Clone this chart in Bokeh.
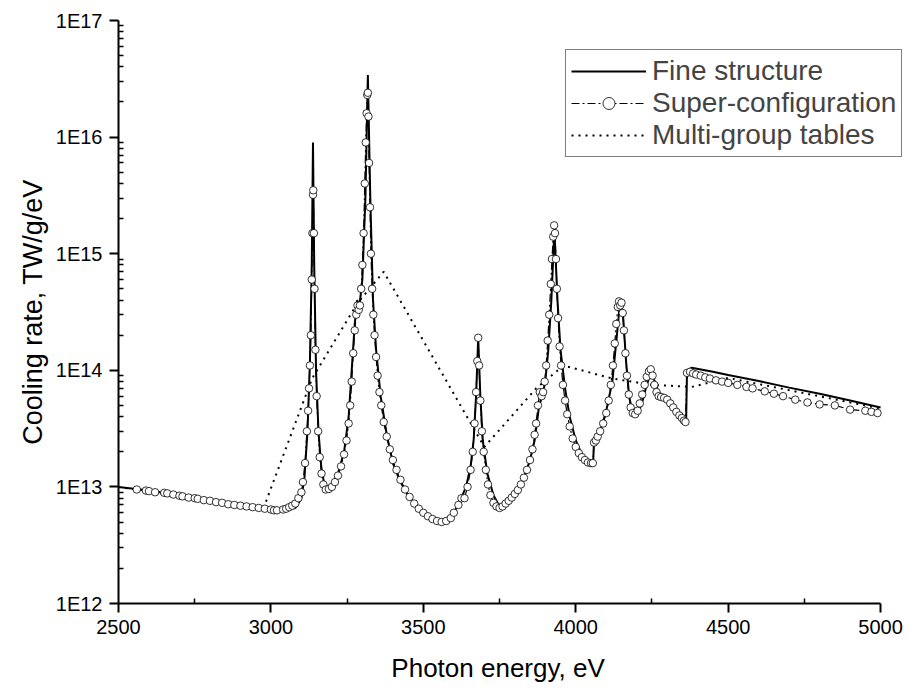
from bokeh.plotting import figure
from bokeh.models import FixedTicker, CustomJSTickFormatter, Legend, LegendItem, Range1d
from bokeh.embed import file_html
from bokeh.resources import INLINE

# ---------------- data ----------------
fs_energy = [2500, 2600, 2700, 2800, 2900, 3000, 3050, 3080, 3100, 3110, 3120, 3128, 3134, 3138,
             3142, 3148, 3156, 3165, 3175, 3185, 3200, 3220, 3240, 3255, 3265, 3275, 3283, 3290,
             3300, 3310, 3318, 3326, 3335, 3345, 3360, 3380, 3400, 3425, 3450, 3475, 3500, 3530,
             3560, 3580, 3600, 3620, 3640, 3655, 3665, 3673, 3680, 3687, 3695, 3710, 3730, 3750,
             3770, 3790, 3810, 3830, 3850, 3865, 3880, 3890, 3900, 3910, 3920, 3930, 3940, 3950,
             3965, 3980, 4000, 4020, 4040, 4057, 4060, 4080, 4100, 4120, 4135, 4145, 4155, 4165,
             4175, 4185, 4200, 4215, 4230, 4245, 4260, 4275, 4290, 4310, 4330, 4350, 4362, 4365,
             4380, 4450, 4500, 4600, 4700, 4800, 4900, 5000]
fs_value = [1.0e13, 9.3e12, 8.5e12, 7.8e12, 7.1e12, 6.5e12, 6.4e12, 6.6e12, 8e12, 1.2e13, 3e13, 1.2e14, 8e14, 9e15,
            8e14, 1e14, 3e13, 1.5e13, 1.05e13, 9.5e12, 1.05e13, 1.3e13, 2e13, 4e13, 1e14, 2.5e14, 4e14, 3.5e14,
            6e14, 3e15, 3.4e16, 3e15, 4e14, 1.5e14, 6e13, 2.8e13, 1.6e13, 1.1e13, 8.5e12, 7e12, 6e12, 5.3e12,
            5e12, 5.2e12, 6e12, 7.5e12, 1e13, 1.5e13, 2.5e13, 6e13, 1.9e14, 6e13, 2.5e13, 1.3e13, 8.5e12, 6.8e12,
            7e12, 8e12, 9.5e12, 1.2e13, 1.7e13, 2.5e13, 5e13, 6e13, 8e13, 1.5e14, 4e14, 1.6e15, 4e14, 1.5e14,
            7e13, 4e13, 2.5e13, 1.9e13, 1.65e13, 1.6e13, 2.5e13, 3e13, 4.5e13, 8e13, 2e14, 3.8e14, 3e14, 1.2e14,
            6e13, 4.5e13, 4.2e13, 5e13, 7e13, 9.5e13, 8e13, 6e13, 5.8e13, 5.3e13, 4.5e13, 4e13, 3.6e13, 1e14,
            1.05e14, 9.7e13, 9.1e13, 8.1e13, 7.1e13, 6.3e13, 5.5e13, 4.8e13]

sc_energy = [2560, 2590, 2600, 2620, 2650, 2660, 2680, 2700, 2710, 2730, 2750, 2760, 2780, 2800, 2820,
             2840, 2860, 2880, 2900, 2920, 2940, 2960, 2980, 3000, 3010, 3020, 3040, 3050, 3060, 3070,
             3080, 3090, 3100, 3105, 3112, 3118, 3122, 3125, 3128, 3131, 3134, 3136, 3138, 3139, 3141,
             3143, 3146, 3150, 3155, 3160, 3166, 3172, 3180, 3190, 3200, 3210, 3220, 3230, 3240, 3248,
             3255, 3260, 3265, 3270, 3275, 3280, 3284, 3288, 3292, 3296, 3300, 3304, 3308, 3311, 3314,
             3316, 3318, 3320, 3322, 3325, 3328, 3332, 3336, 3340, 3345, 3350, 3356, 3362, 3370, 3380,
             3390, 3400, 3412, 3425, 3440, 3455, 3470, 3485, 3500, 3515, 3530, 3545, 3560, 3575, 3590,
             3600, 3615, 3625, 3635, 3645, 3655, 3662, 3668, 3673, 3677, 3680, 3683, 3687, 3692, 3698,
             3705, 3712, 3720, 3730, 3740, 3750, 3760, 3770, 3780, 3790, 3800, 3810, 3820, 3830, 3840,
             3850, 3858, 3865, 3870, 3876, 3882, 3888, 3893, 3898, 3903, 3908, 3913, 3918, 3922, 3926,
             3929, 3932, 3935, 3938, 3942, 3947, 3952, 3958, 3965, 3972, 3980, 3990, 4000, 4010, 4020,
             4030, 4040, 4050, 4056, 4060, 4066, 4072, 4080, 4090, 4100, 4108, 4115, 4122, 4128, 4133,
             4138, 4142, 4146, 4150, 4154, 4158, 4163, 4168, 4174, 4180, 4187, 4195, 4203, 4210, 4218,
             4226, 4233, 4240, 4246, 4252, 4258, 4265, 4272, 4280, 4290, 4300, 4310, 4320, 4330, 4340,
             4348, 4355, 4360, 4365, 4375, 4385, 4395, 4410, 4425, 4440, 4460, 4480, 4500, 4530, 4560,
             4580, 4620, 4650, 4680, 4720, 4760, 4800, 4850, 4900, 4950, 4970, 4990]
sc_value = [9.5e12, 9.3e12, 9.2e12, 9.0e12, 8.9e12, 8.8e12, 8.6e12, 8.4e12, 8.3e12, 8.1e12, 8.0e12, 7.9e12, 7.7e12, 7.6e12, 7.4e12,
            7.3e12, 7.1e12, 7.0e12, 6.9e12, 6.8e12, 6.7e12, 6.6e12, 6.5e12, 6.4e12, 6.3e12, 6.3e12, 6.4e12, 6.5e12, 6.7e12, 6.9e12,
            7.2e12, 8e12, 9e12, 1.1e13, 1.6e13, 3e13, 4.5e13, 7e13, 1.1e14, 2e14, 6e14, 1.5e15, 3.2e15, 3.5e15, 1.5e15,
            5e14, 1.5e14, 6e13, 3e13, 1.8e13, 1.3e13, 1.05e13, 9.5e12, 9.6e12, 1.0e13, 1.1e13, 1.25e13, 1.5e13, 1.9e13, 2.5e13,
            3.5e13, 5e13, 8e13, 1.4e14, 2.2e14, 3e14, 3.6e14, 3.3e14, 3.6e14, 5e14, 8e14, 1.5e15, 4e15, 9e15, 1.6e16,
            2.3e16, 2.4e16, 1.5e16, 6e15, 2.5e15, 1e15, 5e14, 3e14, 2e14, 1.3e14, 9e13, 6.5e13, 5e13, 3.6e13, 2.7e13,
            2.1e13, 1.7e13, 1.4e13, 1.15e13, 9.5e12, 8.2e12, 7.2e12, 6.5e12, 6e12, 5.6e12, 5.3e12, 5.1e12, 5e12, 5.1e12, 5.4e12,
            6e12, 7e12, 8e12, 8e12, 1e13, 1.4e13, 2e13, 3.5e13, 6.5e13, 1.2e14, 1.9e14, 1.1e14, 5.5e13, 3e13, 2e13,
            1.4e13, 1.05e13, 8.5e12, 7.3e12, 6.8e12, 6.6e12, 6.8e12, 7.2e12, 7.6e12, 8.1e12, 8.7e12, 9.4e12, 1.05e13, 1.2e13, 1.4e13,
            1.7e13, 2.1e13, 2.8e13, 3.5e13, 5e13, 6.5e13, 6e13, 6.5e13, 8e13, 1.1e14, 1.8e14, 3e14, 5.5e14, 9e14, 1.4e15,
            1.75e15, 1.5e15, 9e14, 5e14, 2.8e14, 1.6e14, 1.1e14, 7.5e13, 5.5e13, 4.2e13, 3.3e13, 2.6e13, 2.2e13, 1.95e13, 1.8e13,
            1.7e13, 1.62e13, 1.6e13, 1.6e13, 2.4e13, 2.5e13, 2.7e13, 3e13, 3.5e13, 4.3e13, 5.5e13, 7.5e13, 1.1e14, 1.7e14, 2.5e14,
            3.5e14, 3.9e14, 3.6e14, 3.8e14, 3.1e14, 2.2e14, 1.4e14, 9e13, 6.2e13, 4.8e13, 4.3e13, 4.2e13, 4.5e13, 5.2e13, 6.2e13,
            7.5e13, 8.8e13, 9.8e13, 1.02e14, 9e13, 7.5e13, 6.5e13, 6e13, 5.9e13, 5.8e13, 5.6e13, 5.2e13, 4.8e13, 4.4e13, 4.1e13,
            3.9e13, 3.7e13, 3.6e13, 9.5e13, 9.7e13, 9.4e13, 9.2e13, 9e13, 8.7e13, 8.5e13, 8.2e13, 8e13, 7.8e13, 7.5e13, 7.2e13,
            7.0e13, 6.6e13, 6.3e13, 6.0e13, 5.6e13, 5.3e13, 5.1e13, 5.0e13, 4.6e13, 4.5e13, 4.4e13, 4.3e13]

mg_energy = [2500, 2975, 3135, 3285, 3370, 3700, 3870, 3960, 4120, 4250, 4380, 4500, 5000]
mg_value = [1.0e13, 6.5e12, 8.5e13, 3.8e14, 7.0e14, 2.2e13, 7.0e13, 1.1e14, 8.5e13, 7.5e13, 7.2e13, 8.6e13, 4.7e13]

x_ticks = [2500, 3000, 3500, 4000, 4500, 5000]
x_minor = [2750, 3250, 3750, 4250, 4750]
y_ticks = [1e12, 1e13, 1e14, 1e15, 1e16, 1e17]
y_minor = [m * 10.0 ** e for e in range(12, 17) for m in range(2, 10)]

FONT = "Liberation Sans"

# frame runs a little past 5000 eV so the legend box is not clipped; the axis line stops at 5000
p = figure(width=917, height=698, y_axis_type="log", output_backend="svg", toolbar_location=None,
           x_range=Range1d(2500, 5085), y_range=Range1d(1e12, 1e17),
           min_border_left=118, min_border_right=11, min_border_top=20, min_border_bottom=95)
p.outline_line_color = None
p.xgrid.visible = False
p.ygrid.visible = False
p.background_fill_color = "white"
p.border_fill_color = "white"

r_mg = p.line(mg_energy, mg_value, line_color="black", line_width=2, line_dash="2 5")
r_fs = p.line(fs_energy, fs_value, line_color="black", line_width=2)
r_scl = p.line(sc_energy, sc_value, line_color="black", line_width=1.2, line_dash="8 3 2 3")
r_scm = p.scatter(sc_energy, sc_value, marker="circle", size=7.5, fill_color="white",
                  line_color="black", line_width=0.8)

xa = p.xaxis[0]
xa.ticker = FixedTicker(ticks=x_ticks, minor_ticks=x_minor)
xa.bounds = (x_ticks[0], x_ticks[-1])
# trailing no-break spaces keep the label centred under 2500-5000 rather than the wider frame
xa.axis_label = "Photon energy, eV" + "\u00a0" * 4
ya = p.yaxis[0]
ya.ticker = FixedTicker(ticks=y_ticks, minor_ticks=y_minor)
ya.formatter = CustomJSTickFormatter(code="return '1E' + Math.round(Math.log10(tick));")
ya.axis_label = "Cooling rate, TW/g/eV"
for ax in (xa, ya):
    ax.axis_line_width = 2
    ax.major_tick_line_width = 2
    ax.minor_tick_line_width = 1.5
    ax.major_tick_out = 9
    ax.major_tick_in = 0
    ax.minor_tick_in = 5
    ax.minor_tick_out = 0
    ax.major_label_text_font = FONT
    ax.major_label_text_font_size = "20px"
    ax.major_label_text_color = "black"
    ax.major_label_standoff = 7
    ax.axis_label_text_font = FONT
    ax.axis_label_text_font_style = "normal"
    ax.axis_label_text_color = "black"
xa.axis_label_text_font_size = "26px"
ya.axis_label_text_font_size = "27px"
xa.axis_label_standoff = 16
ya.axis_label_standoff = 5

legend = Legend(items=[
    LegendItem(label="Fine structure", renderers=[r_fs]),
    LegendItem(label="Super-configuration", renderers=[r_scl, r_scm]),
    LegendItem(label="Multi-group tables", renderers=[r_mg]),
], location=(447, 446))
legend.label_text_font = FONT
legend.label_text_font_size = "28px"
legend.label_height = 30
legend.glyph_width = 75
legend.glyph_height = 30
legend.label_standoff = 6
legend.spacing = 0
legend.padding = 5
legend.margin = 0
legend.border_line_color = "black"
legend.border_line_width = 1
legend.background_fill_alpha = 1
p.add_layout(legend)

open("out.html", "w").write(file_html(p, INLINE))
